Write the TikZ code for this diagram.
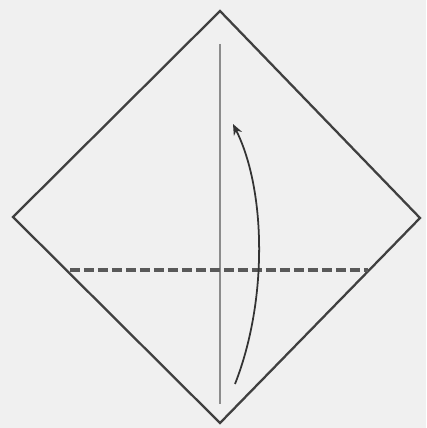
\documentclass[tikz,border=0pt]{standalone}
\usepackage{tikz}
\usetikzlibrary{arrows.meta}

\begin{document}
\begin{tikzpicture}[x=0.02cm,y=-0.02cm,
  edge/.style={draw=black!75,line width=1.3pt,line join=miter},
  crease/.style={draw=black!45,line width=0.7pt},
  valley/.style={draw=black!65,line width=1.8pt,dash pattern=on 0.2cm off 0.08cm},
  ar/.style={draw=black!80,line width=1pt,-{Stealth[length=2.2mm,width=1.8mm]}}]
\fill[black!6] (0,0) rectangle (426,428);
\useasboundingbox (0,0) rectangle (426,428);
% corners of the square
\coordinate (t) at (220,11);
\coordinate (l) at (13,217);
\coordinate (r) at (420,218);
\coordinate (b) at (220,423);
\draw[edge] (t) -- (r) -- (b) -- (l) -- cycle;
% crease and valley fold
\coordinate (ct) at (220,44);
\coordinate (cb) at (220,404);
\draw[crease] (ct) -- (cb);
\coordinate (vl) at (70,270);
\coordinate (vr) at (368,270);
\draw[valley] (vl) -- (vr);
% fold arrow
\coordinate (as) at (235,384);
\coordinate (ae) at (233,124);
\draw[ar] (as) .. controls (268,300) and (266,190) .. (ae);
\end{tikzpicture}
\end{document}
